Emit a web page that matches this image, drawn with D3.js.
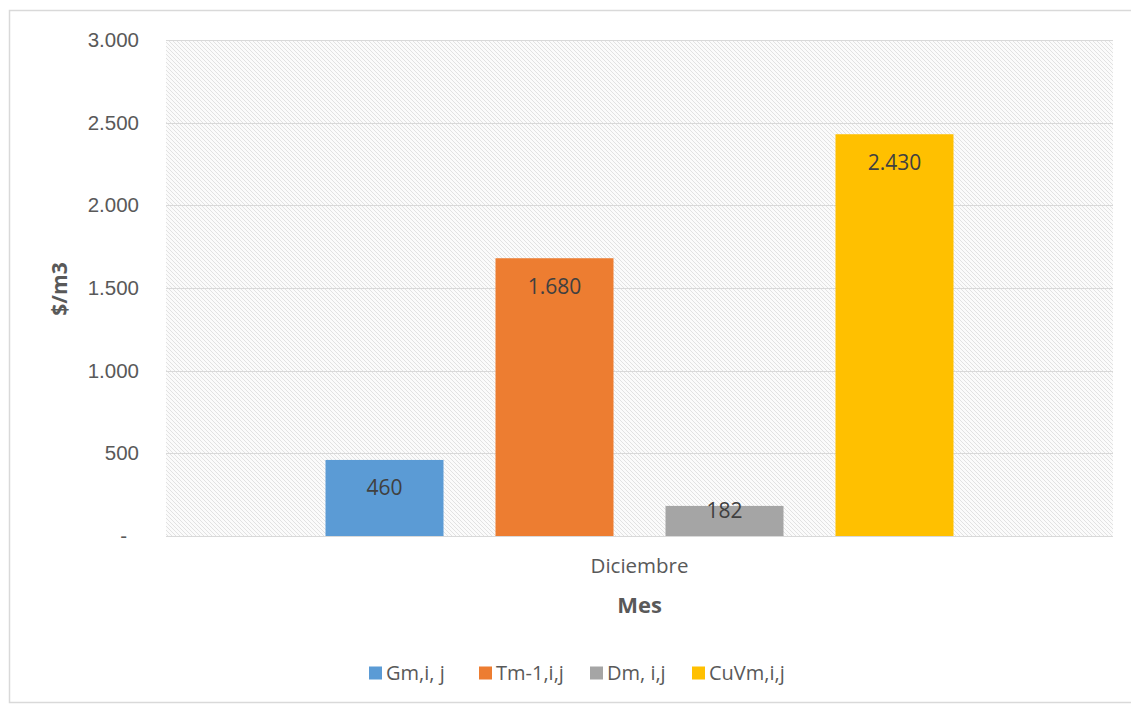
<!DOCTYPE html>
<html>
<head>
<meta charset="utf-8">
<script src="https://cdn.jsdelivr.net/npm/d3@7"></script>
<style>
  body { margin: 0; background: #fff; }
  svg { display: block; font-family: "Open Sans", "Liberation Sans", sans-serif; }
</style>
</head>
<body>
<svg id="chart" width="1131" height="706"></svg>
<script>
const categories = ["Diciembre"];
const seriesNames = ["Gm,i, j", "Tm-1,i,j", "Dm, i,j", "CuVm,i,j"];
const seriesValues = [460, 1680, 182, 2430];
const seriesColors = ["#5B9BD5", "#ED7D31", "#A5A5A5", "#FFC000"];
const yTicks = [0, 500, 1000, 1500, 2000, 2500, 3000];
const yTickLabels = ["-", "500", "1.000", "1.500", "2.000", "2.500", "3.000"];
const valueLabels = ["460", "1.680", "182", "2.430"];
const xTitle = "Mes";
const yTitle = "$/m3";

const svg = d3.select("#chart");
const W = 1131, H = 706;
const m = { left: 166, right: 1113, top: 40, bottom: 536 };

// outer frame
svg.append("rect").attr("x", 9.5).attr("y", 10.5).attr("width", W - 8).attr("height", H - 14)
  .attr("fill", "#fff").attr("stroke", "#d9d9d9").attr("stroke-width", 1.5);

// hatch pattern
const defs = svg.append("defs");
const pat = defs.append("pattern").attr("id", "hatch").attr("patternUnits", "userSpaceOnUse")
  .attr("width", 4).attr("height", 4);
pat.append("rect").attr("width", 4).attr("height", 4).attr("fill", "#fbfbfb");
pat.append("path").attr("d", "M-1,-1 L5,5 M-1,3 L1,5 M3,-1 L5,1")
  .attr("stroke", "#e2e2e2").attr("stroke-width", 1);

const y = d3.scaleLinear().domain([0, 3000]).range([m.bottom, m.top]);
const x0 = d3.scaleBand().domain(categories).range([m.left, m.right]).paddingInner(0).paddingOuter(0.254);
const x1 = d3.scaleBand().domain(seriesNames).range([0, x0.bandwidth()]).paddingInner(52 / 170).paddingOuter(0);

svg.append("rect").attr("x", m.left).attr("y", m.top).attr("width", m.right - m.left)
  .attr("height", m.bottom - m.top).attr("fill", "url(#hatch)");

// gridlines
svg.append("g").selectAll("line").data(yTicks.slice(1)).join("line")
  .attr("x1", m.left).attr("x2", m.right)
  .attr("y1", d => Math.round(y(d)) + 0.5).attr("y2", d => Math.round(y(d)) + 0.5)
  .attr("stroke", "#d9d9d9").attr("stroke-width", 1);

// y axis
const yAxis = d3.axisLeft(y).tickValues(yTicks).tickSize(0).tickPadding(0)
  .tickFormat((d, i) => yTickLabels[i]);
const gy = svg.append("g").attr("transform", `translate(${m.left - 27},0)`).call(yAxis);
gy.select(".domain").remove();
gy.selectAll("text").attr("fill", "#595959").style("font-size", "20.5px");
gy.selectAll("text").filter((d, i) => yTickLabels[i] === "-").attr("dx", "-12px");

// x axis baseline
svg.append("line").attr("x1", m.left).attr("x2", m.right).attr("y1", m.bottom + 0.5).attr("y2", m.bottom + 0.5)
  .attr("stroke", "#d9d9d9");

// bars
const data = seriesNames.map((s, i) => ({ cat: categories[0], s, v: seriesValues[i], c: seriesColors[i], l: valueLabels[i] }));
const g = svg.append("g");
g.selectAll("rect").data(data).join("rect")
  .attr("x", d => x0(d.cat) + x1(d.s))
  .attr("y", d => y(d.v))
  .attr("width", x1.bandwidth())
  .attr("height", d => y(0) - y(d.v))
  .attr("fill", d => d.c);

g.selectAll("text").data(data).join("text")
  .attr("x", d => x0(d.cat) + x1(d.s) + x1.bandwidth() / 2)
  .attr("y", d => Math.min(y(d.v) + 28, y(0) - 25))
  .attr("dy", "0.35em")
  .attr("text-anchor", "middle")
  .attr("fill", "#404040")
  .style("font-size", "21px")
  .text(d => d.l);

// category label
svg.append("text").attr("x", x0(categories[0]) + x0.bandwidth() / 2).attr("y", 566).attr("dy", "0.35em")
  .attr("text-anchor", "middle").attr("fill", "#595959").style("font-size", "20.5px").text(categories[0]);

// axis titles
svg.append("text").attr("x", x0(categories[0]) + x0.bandwidth() / 2).attr("y", 605).attr("dy", "0.35em")
  .attr("text-anchor", "middle").attr("fill", "#595959").style("font-size", "22px").style("font-weight", "bold").text(xTitle);
svg.append("text").attr("transform", "translate(60,289) rotate(-90)").attr("dy", "0.35em")
  .attr("text-anchor", "middle").attr("fill", "#595959").style("font-size", "21px").style("font-weight", "bold").text(yTitle);

// legend
const legendX = [369, 479, 590, 692];
const lg = svg.append("g").selectAll("g").data(data).join("g")
  .attr("transform", (d, i) => `translate(${legendX[i]},673)`);
lg.append("rect").attr("x", 0).attr("y", -6.5).attr("width", 13).attr("height", 13).attr("fill", d => d.c);
lg.append("text").attr("x", 17).attr("dy", "0.35em").attr("fill", "#595959").style("font-size", "20px").text(d => d.s);
</script>
</body>
</html>
